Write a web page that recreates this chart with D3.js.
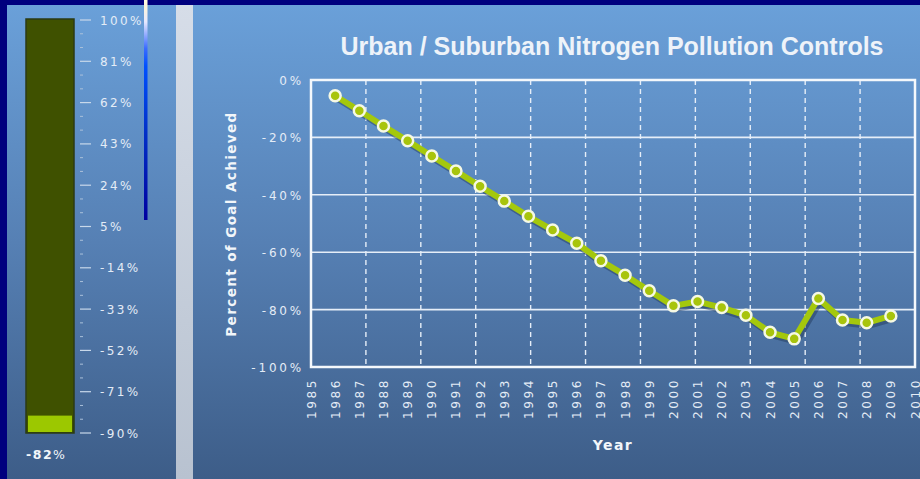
<!DOCTYPE html>
<html>
<head>
<meta charset="utf-8">
<script src="https://cdn.jsdelivr.net/npm/d3@7"></script>
<style>
  html, body { margin: 0; padding: 0; background: #00007e; }
  svg { display: block; }
  text { font-family: "DejaVu Sans", Verdana, sans-serif; }
</style>
</head>
<body>
<svg id="chart" width="920" height="479"></svg>
<script>
// Chart data
var years = [1986, 1987, 1988, 1989, 1990, 1991, 1992, 1993, 1994, 1995, 1996, 1997,
             1998, 1999, 2000, 2001, 2002, 2003, 2004, 2005, 2006, 2007, 2008, 2009];
var goalPct = [-5.5, -10.7, -16, -21.2, -26.5, -31.7, -37, -42.2, -47.5, -52.3, -56.9, -63,
               -68, -73.4, -78.7, -77.2, -79.3, -82, -87.9, -90.2, -76.1, -83.6, -84.6, -82.2];
var yTicks = [0, -20, -40, -60, -80, -100];
var xTickYears = d3.range(1985, 2011);
var gaugeTicks = [100, 81, 62, 43, 24, 5, -14, -33, -52, -71, -90];
var gaugeValue = -82;
var titleText = 'Urban / Suburban Nitrogen Pollution Controls';

(function () {
  'use strict';

  var svg = d3.select('#chart');
  var defs = svg.append('defs');

  function vGrad(id, stops) {
    var g = defs.append('linearGradient').attr('id', id)
      .attr('x1', 0).attr('y1', 0).attr('x2', 0).attr('y2', 1);
    stops.forEach(function (s) {
      g.append('stop').attr('offset', s[0]).attr('stop-color', s[1]);
    });
  }
  vGrad('panelGrad', [[0, '#6aa0d9'], [0.5, '#5680b4'], [1, '#3d5d88']]);
  vGrad('stripGrad', [[0, '#d6dde8'], [1, '#b8c2d0']]);
  vGrad('glitchGrad', [[0, '#fffbe0'], [0.025, '#fff6d8'], [0.1, '#e6e8ff'],
                       [0.22, '#3a6cff'], [0.3, '#0050ff'], [0.6, '#0030c8'], [1, '#0000a0']]);

  // background panels
  svg.append('rect').attr('width', 920).attr('height', 479).attr('fill', '#00007e');
  svg.append('rect').attr('x', 7).attr('y', 5).attr('width', 169).attr('height', 474)
    .attr('fill', 'url(#panelGrad)');
  svg.append('rect').attr('x', 176).attr('y', 5).attr('width', 17).attr('height', 474)
    .attr('fill', 'url(#stripGrad)');
  svg.append('rect').attr('x', 193).attr('y', 5).attr('width', 727).attr('height', 474)
    .attr('fill', 'url(#panelGrad)');

  // ---- Gauge on the left ----
  var gy = d3.scaleLinear().domain([-90, 100]).range([433, 20]);
  var gauge = svg.append('g');

  gauge.append('rect')
    .attr('x', 26).attr('y', gy(100) - 1).attr('width', 48).attr('height', gy(-90) - gy(100) + 1)
    .attr('fill', '#3f5100').attr('stroke', '#2b3a14').attr('stroke-width', 1.5);
  gauge.append('rect')
    .attr('x', 28).attr('y', gy(gaugeValue)).attr('width', 44)
    .attr('height', gy(-90) - gy(gaugeValue) - 1)
    .attr('fill', '#9cc800');

  // minor ticks: two between each labelled tick
  var minor = [];
  gaugeTicks.slice(1).forEach(function (t) {
    minor.push(t + 19 / 3, t + 38 / 3);
  });
  gauge.selectAll('line.minor').data(minor).join('line')
    .attr('class', 'minor')
    .attr('x1', 80).attr('x2', 83)
    .attr('y1', function (d) { return gy(d); }).attr('y2', function (d) { return gy(d); })
    .attr('stroke', '#aac0da').attr('stroke-width', 1);

  gauge.selectAll('line.major').data(gaugeTicks).join('line')
    .attr('class', 'major')
    .attr('x1', 80).attr('x2', 91)
    .attr('y1', function (d) { return gy(d); }).attr('y2', function (d) { return gy(d); })
    .attr('stroke', '#c8d8ea').attr('stroke-width', 1.2);

  gauge.selectAll('text.glabel').data(gaugeTicks).join('text')
    .attr('class', 'glabel')
    .attr('x', 100).attr('y', function (d) { return gy(d) + 4.5; })
    .attr('fill', '#e4ecf6').attr('font-size', 12).attr('letter-spacing', 2.4)
    .text(function (d) { return d + '%'; });

  var vLabel = gauge.append('text').attr('x', 26).attr('y', 459)
    .attr('fill', '#f2f6fa').attr('font-size', 12.5).attr('letter-spacing', 1.5);
  vLabel.append('tspan').attr('font-weight', 'bold').text(gaugeValue);
  vLabel.append('tspan').text('%');

  // odd vertical gradient sliver at the top
  svg.append('rect').attr('x', 144).attr('y', 0).attr('width', 3.5).attr('height', 220)
    .attr('fill', 'url(#glitchGrad)');

  // ---- Main line chart ----
  var x = d3.scaleLinear().domain([1985, 2010]).range([311, 915]);
  var y = d3.scaleLinear().domain([-100, 0]).range([367, 80]);

  var plot = svg.append('g');

  // solid horizontal grid
  plot.selectAll('line.hgrid').data(yTicks.filter(function (d) { return d !== 0 && d !== -100; }))
    .join('line').attr('class', 'hgrid')
    .attr('x1', x(1985)).attr('x2', x(2010))
    .attr('y1', function (d) { return y(d); }).attr('y2', function (d) { return y(d); })
    .attr('stroke', '#e6eef8').attr('stroke-width', 1.6);

  // dashed vertical grid (domain split in 11 parts)
  var vLines = d3.range(1, 11).map(function (i) { return 1985 + i * 25 / 11; });
  plot.selectAll('line.vgrid').data(vLines).join('line').attr('class', 'vgrid')
    .attr('x1', function (d) { return x(d); }).attr('x2', function (d) { return x(d); })
    .attr('y1', y(0)).attr('y2', y(-100))
    .attr('stroke', '#e6eef8').attr('stroke-width', 1.4).attr('stroke-dasharray', '5,4');

  plot.append('rect')
    .attr('x', x(1985)).attr('y', y(0))
    .attr('width', x(2010) - x(1985)).attr('height', y(-100) - y(0))
    .attr('fill', 'none').attr('stroke', '#f4f8fc').attr('stroke-width', 2.5);

  // y tick labels
  plot.selectAll('text.ytick').data(yTicks).join('text').attr('class', 'ytick')
    .attr('x', 304).attr('y', function (d) { return y(d) + 5; })
    .attr('text-anchor', 'end')
    .attr('fill', '#e4ecf6').attr('font-size', 12).attr('letter-spacing', 2.8)
    .text(function (d) { return d + '%'; });

  // x tick labels (rotated)
  plot.selectAll('text.xtick').data(xTickYears).join('text').attr('class', 'xtick')
    .attr('transform', function (d) { return 'translate(' + (x(d) + 4.5) + ',378) rotate(-90)'; })
    .attr('text-anchor', 'end')
    .attr('fill', '#e4ecf6').attr('font-size', 12).attr('letter-spacing', 2.6)
    .text(function (d) { return d; });

  // axis titles
  svg.append('text')
    .attr('transform', 'translate(236,224) rotate(-90)')
    .attr('text-anchor', 'middle')
    .attr('fill', '#f2f6fa').attr('font-size', 13.5).attr('font-weight', 'bold')
    .attr('letter-spacing', 1.4)
    .text('Percent of Goal Achieved');

  svg.append('text')
    .attr('x', 613).attr('y', 450).attr('text-anchor', 'middle')
    .attr('fill', '#f2f6fa').attr('font-size', 14).attr('font-weight', 'bold')
    .attr('letter-spacing', 1.4)
    .text('Year');

  svg.append('text')
    .attr('x', 612).attr('y', 55).attr('text-anchor', 'middle')
    .attr('fill', '#eef3f9').attr('font-size', 25).attr('font-weight', 'bold')
    .style('font-family', '"Liberation Sans", Arial, sans-serif')
    .text(titleText);

  // series
  var pts = years.map(function (yr, i) { return { year: yr, v: goalPct[i] }; });
  var line = d3.line()
    .x(function (d) { return x(d.year); })
    .y(function (d) { return y(d.v); });

  plot.append('path').datum(pts)
    .attr('d', line).attr('transform', 'translate(2,3)')
    .attr('fill', 'none').attr('stroke', '#1f3656').attr('stroke-opacity', 0.45)
    .attr('stroke-width', 6).attr('stroke-linejoin', 'round');

  plot.append('path').datum(pts)
    .attr('d', line)
    .attr('fill', 'none').attr('stroke', '#a4c80c')
    .attr('stroke-width', 6).attr('stroke-linejoin', 'round');

  plot.selectAll('circle.pt').data(pts).join('circle').attr('class', 'pt')
    .attr('cx', function (d) { return x(d.year); })
    .attr('cy', function (d) { return y(d.v); })
    .attr('r', 5.5)
    .attr('fill', '#a8c40c').attr('stroke', '#f6f9e4').attr('stroke-width', 2.5);
})();
</script>
</body>
</html>
